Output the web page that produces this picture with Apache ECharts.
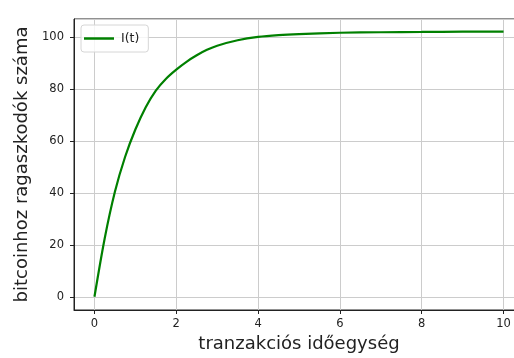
<!DOCTYPE html>
<html>
<head>
<meta charset="utf-8">
<script src="https://cdn.jsdelivr.net/npm/echarts@6/dist/echarts.min.js"></script>
<style>
  html, body { margin: 0; padding: 0; background: #fff; }
  #chart { width: 514px; height: 358px; }
</style>
</head>
<body>
<div id="chart"></div>
<script>
// Time steps (transaction time units) and the number of holders I(t)
const tValues = [0, 0.25, 0.5, 0.75, 1, 1.25, 1.5, 1.75, 2, 2.25, 2.5, 2.75, 3, 3.5, 4, 4.5, 5, 6, 7, 8, 9, 10];
const iValues = [0, 22.5, 40.5, 54, 64.5, 73, 79.5, 84.1, 87.6, 90.6, 93.1, 95.2, 96.8, 98.9, 100.2, 100.9, 101.3, 101.8, 102, 102.1, 102.2, 102.2];

const seriesName = 'I(t)';
const xAxisTitle = 'tranzakciós időegység';
const yAxisTitle = 'bitcoinhoz ragaszkodók száma';

const font = 'DejaVu Sans';
const points = tValues.map((t, i) => [t, iValues[i]]);

const chart = echarts.init(document.getElementById('chart'), null, { renderer: 'canvas' });

const axisCommon = {
  type: 'value',
  axisLine: { show: true, onZero: false, lineStyle: { color: '#222', width: 1 } },
  axisTick: { show: true, inside: false, length: 4, lineStyle: { color: '#222', width: 1 } },
  splitLine: { show: true, lineStyle: { color: '#cccccc', width: 1 } },
  axisLabel: {
    color: '#222', fontFamily: font, fontSize: 11.5,
    showMinLabel: false, showMaxLabel: false
  },
  nameLocation: 'middle',
  nameTextStyle: { color: '#222', fontFamily: font, fontSize: 18 }
};

chart.setOption({
  animation: false,
  backgroundColor: '#fff',
  grid: {
    left: 74, top: 19, width: 450, bottom: 48,
    outerBoundsMode: 'none',
    show: true, borderColor: '#222', borderWidth: 1, backgroundColor: 'transparent'
  },
  xAxis: Object.assign({}, axisCommon, {
    min: -0.5, max: 10.5, splitNumber: 5,
    name: xAxisTitle, nameGap: 24,
    axisLabel: Object.assign({}, axisCommon.axisLabel, {
      margin: 8,
      formatter: v => (Math.abs(v % 2) < 1e-9 ? String(v) : '')
    })
  }),
  yAxis: Object.assign({}, axisCommon, {
    min: -5.1, max: 107.1, splitNumber: 5,
    name: yAxisTitle, nameGap: 42,
    axisLabel: Object.assign({}, axisCommon.axisLabel, {
      margin: 10,
      formatter: v => (Math.abs(v % 20) < 1e-9 ? String(v) : '')
    })
  }),
  legend: {
    left: 81, top: 25,
    orient: 'vertical',
    data: [{ name: seriesName, icon: 'rect' }],
    itemWidth: 30, itemHeight: 2.5, itemGap: 0,
    padding: [7, 9, 7, 3],
    borderColor: '#d6d6d6', borderWidth: 1, borderRadius: 3,
    backgroundColor: 'rgba(255,255,255,0.8)',
    textStyle: { color: '#222', fontFamily: font, fontSize: 12.5, padding: [0, 0, 0, 2] }
  },
  series: [{
    name: seriesName,
    type: 'line',
    data: points,
    smooth: 0.3,
    showSymbol: false,
    lineStyle: { color: '#008000', width: 2.2 },
    itemStyle: { color: '#008000' }
  }]
});
</script>
</body>
</html>
